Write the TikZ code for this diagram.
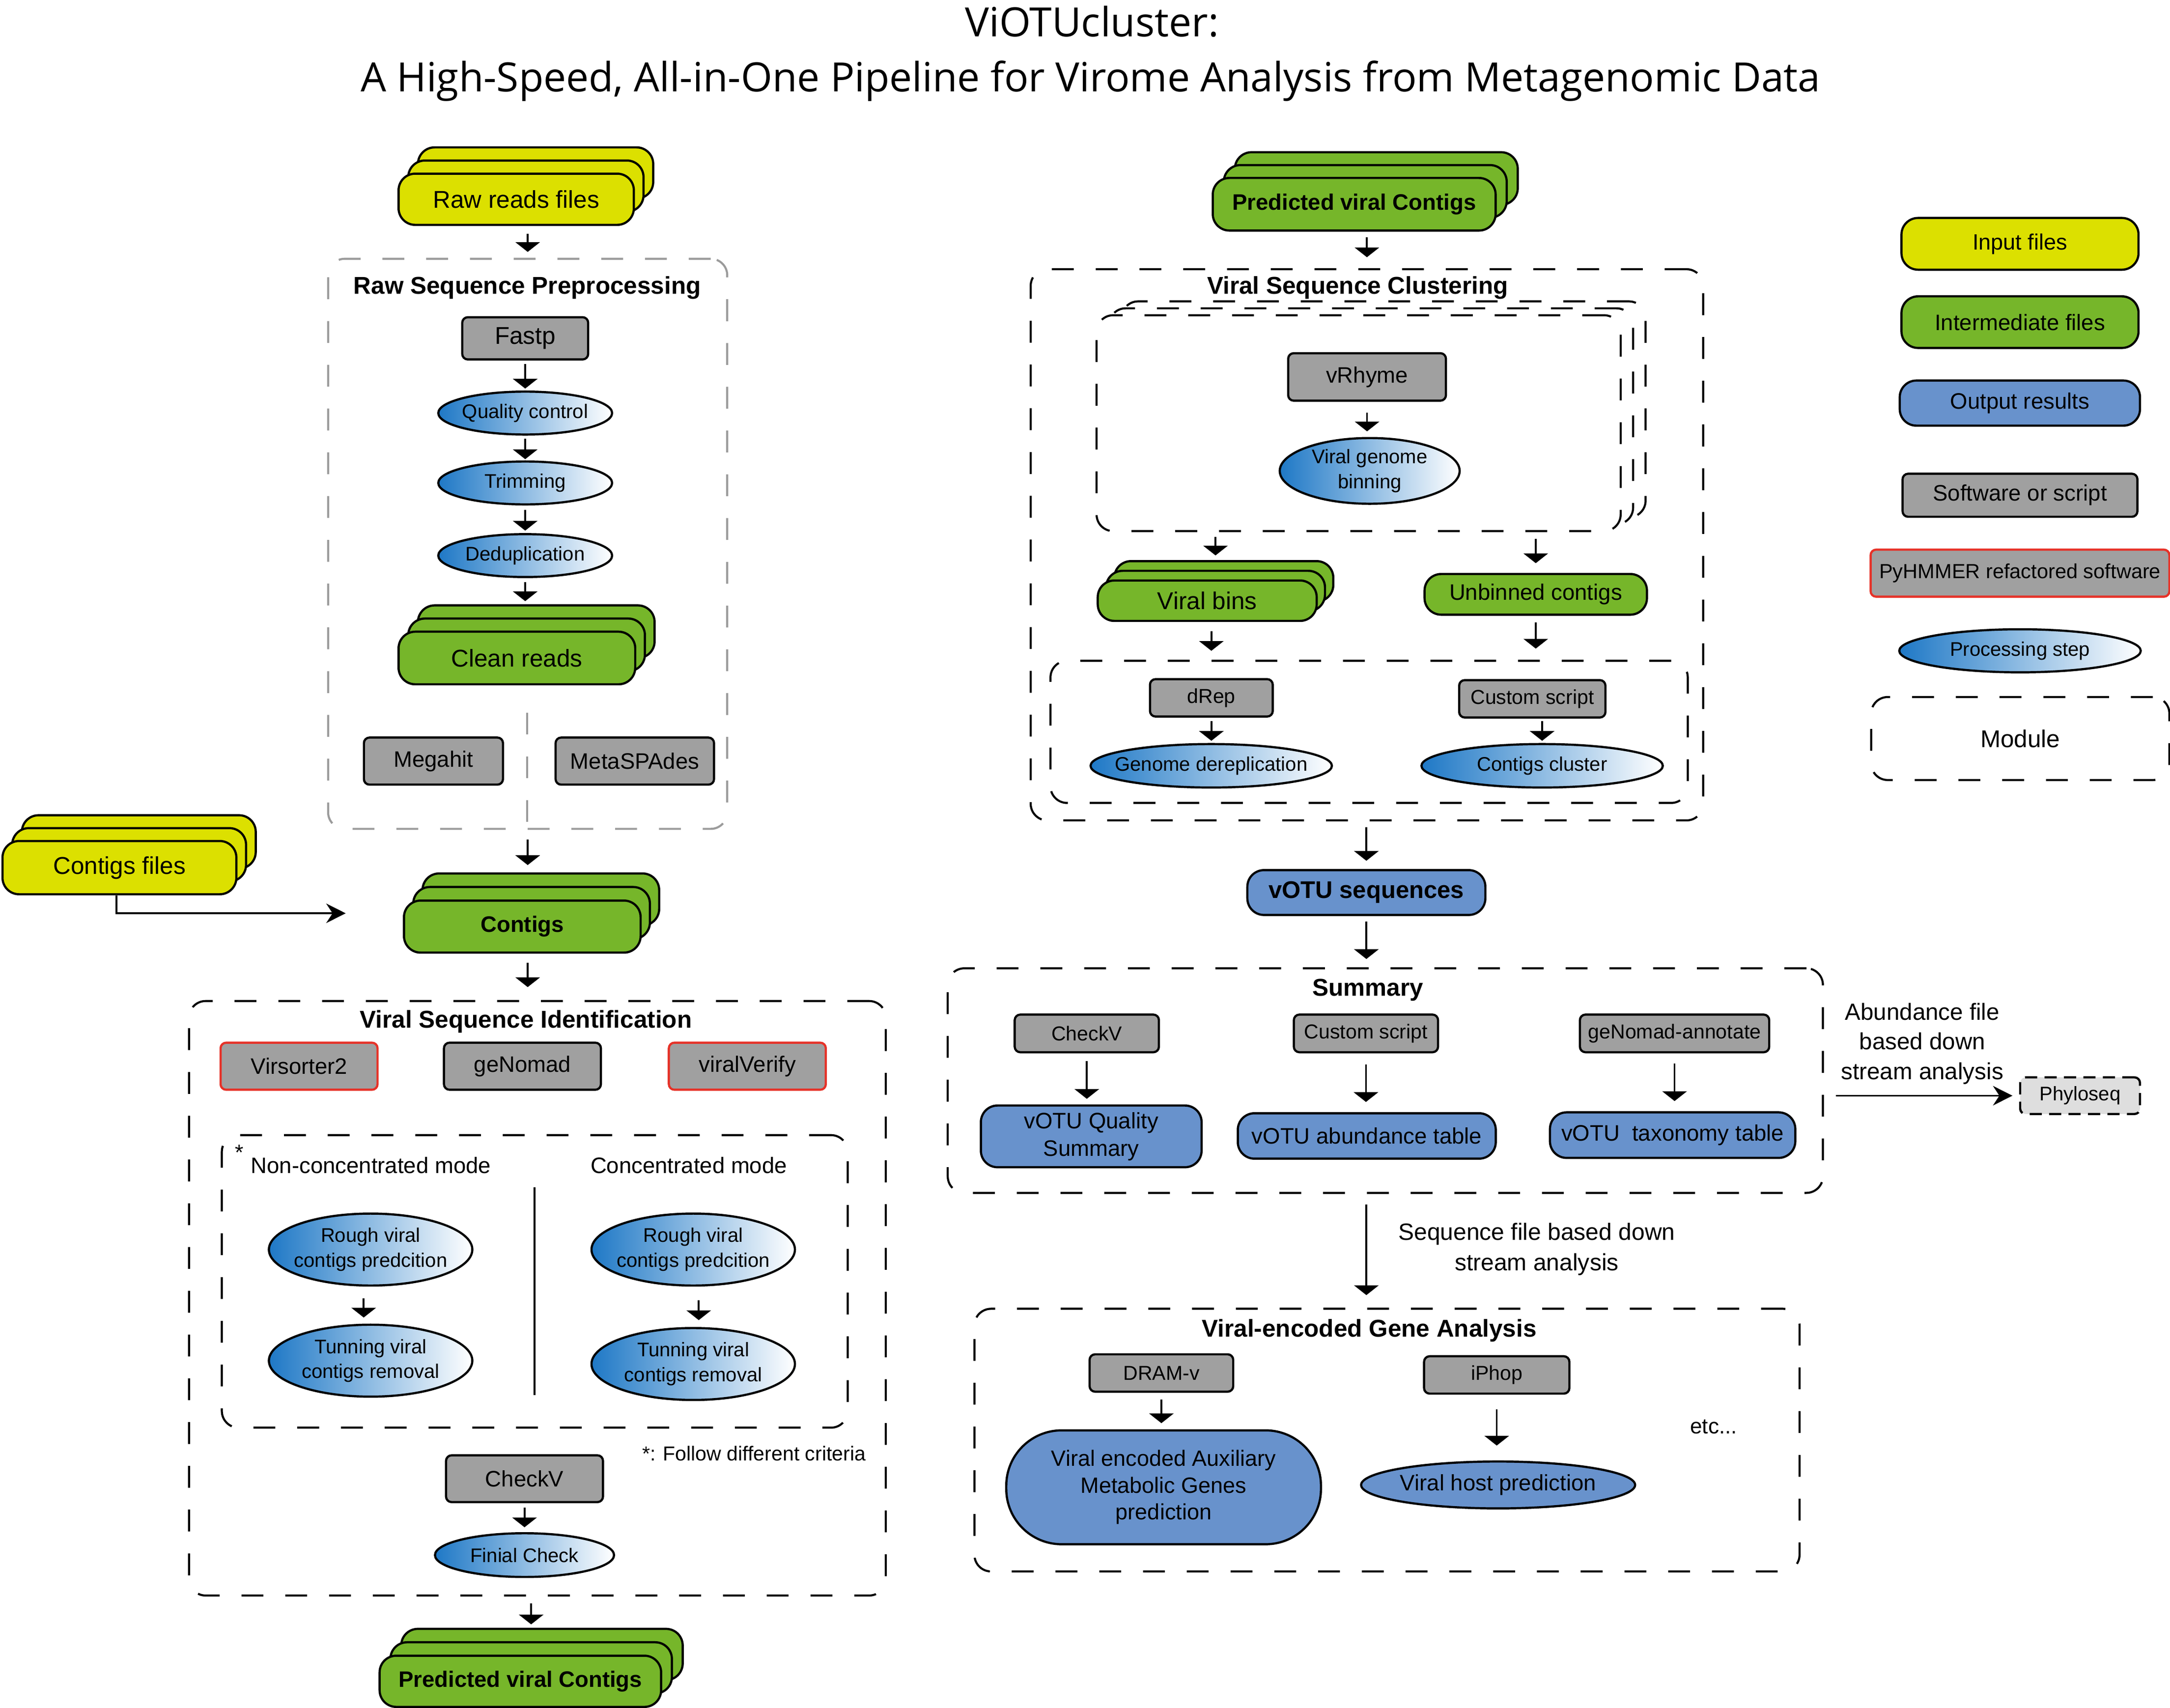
\documentclass[tikz,border=0pt]{standalone}
\usepackage{fontspec}
\setmainfont{Liberation Sans}
\newfontfamily\titlefont{Open Sans}
\usetikzlibrary{arrows.meta,shapes.geometric}

\definecolor{inyellow}{RGB}{220,224,0}
\definecolor{midgreen}{RGB}{118,182,42}
\definecolor{outblue}{RGB}{104,146,204}
\definecolor{toolgray}{RGB}{160,160,160}
\definecolor{refred}{RGB}{230,50,40}
\definecolor{stepblue}{RGB}{30,120,198}
\definecolor{modgray}{RGB}{155,155,155}
\definecolor{phylogray}{RGB}{222,222,222}

\newcommand{\pxu}{0.02cm}
\newcommand{\fsz}[2]{\fontsize{#1}{#2}\selectfont}

\tikzstyle{filebox} = [draw, line width=0.9pt, rounded corners=12*\pxu, inner sep=0pt, font=\fsz{10}{12}]
\tikzstyle{infile} = [filebox, fill=inyellow]
\tikzstyle{midfile} = [filebox, fill=midgreen]
\tikzstyle{outres} = [filebox, fill=outblue, font=\fsz{9.2}{11}]
\tikzstyle{tool} = [draw, line width=0.9pt, rounded corners=4*\pxu, fill=toolgray, inner sep=0pt, font=\fsz{9.2}{11}]
\tikzstyle{pytool} = [tool, draw=refred]
\tikzstyle{procstep} = [ellipse, draw, line width=0.9pt, left color=stepblue, right color=white, inner sep=-15pt, align=center, font=\fsz{8.1}{10.2}]
\tikzstyle{module} = [draw, line width=0.85pt, dash pattern=on 9pt off 9pt, rounded corners=12*\pxu, inner sep=0pt]
\tikzstyle{modtitle} = [font=\bfseries\fsz{10}{12}]
\tikzstyle{arr} = [line width=0.75pt, -{Triangle[width=10pt,length=4pt]}]
\tikzstyle{longarr} = [line width=0.8pt, -{Stealth[width=8pt,length=8pt]}]

% three stacked copies: name, x, y, dx, dy (up), style, text
\newcommand{\filestack}[7]{%
\node[#6] (#1-c) at (#2+2*#4,#3-2*#5) {};
\node[#6] (#1-b) at (#2+#4,#3-#5) {};
\node[#6] (#1) at (#2,#3) {#7};}

\begin{document}
\begin{tikzpicture}[x=0.02cm,y=-0.02cm]
\useasboundingbox (0,0) rectangle (1568,1234);

\node[font=\titlefont\fsz{16.6}{20}, anchor=base] (title1) at (789,26.6) {ViOTUcluster:};
\node[font=\titlefont\fsz{16.6}{20}, anchor=base] (title2) at (788,66.3) {A High-Speed, All-in-One Pipeline for Virome Analysis from Metagenomic Data};

% legend
\node[infile, minimum width=171.3*\pxu, minimum height=37.4*\pxu, font=\fsz{9.1}{11}] (leg-in) at (1459.6,176.2) {Input files};
\node[midfile, minimum width=171.3*\pxu, minimum height=37.3*\pxu, font=\fsz{9.2}{11}] (leg-mid) at (1459.6,232.8) {Intermediate files};
\node[outres, minimum width=173.6*\pxu, minimum height=32.6*\pxu] (leg-out) at (1459.5,291.3) {Output results};
\node[tool, minimum width=169.7*\pxu, minimum height=31.1*\pxu] (leg-tool) at (1459.6,357.9) {Software or script};
\node[pytool, minimum width=215.9*\pxu, minimum height=34*\pxu, font=\fsz{8.4}{10}] (leg-py) at (1459.6,414.2) {PyHMMER refactored software};
\node[procstep, minimum width=174.5*\pxu, minimum height=31.1*\pxu] (leg-step) at (1459.6,470.3) {Processing step};
\node[module, minimum width=215.5*\pxu, minimum height=60*\pxu, font=\fsz{10}{12}] (leg-mod) at (1459.8,533.7) {Module};

% raw sequence preprocessing
\filestack{raw}{373}{144}{7}{9.5}{infile, minimum width=170*\pxu, minimum height=37*\pxu}{Raw reads files}
\node[module, draw=modgray, minimum width=288.4*\pxu, minimum height=412*\pxu] (prep) at (381.3,393) {};
\node[modtitle] (prep-t) at (381,208) {Raw Sequence Preprocessing};
\node[tool, minimum width=91*\pxu, minimum height=30.5*\pxu, font=\fsz{10}{12}] (fastp) at (379.5,244.5) {Fastp};
\node[procstep, minimum width=125.6*\pxu, minimum height=31*\pxu] (qc) at (379.5,298.5) {Quality control};
\node[procstep, minimum width=125.6*\pxu, minimum height=31*\pxu] (trim) at (379.5,349) {Trimming};
\node[procstep, minimum width=125.6*\pxu, minimum height=31*\pxu] (dedup) at (379.5,401.5) {Deduplication};
\filestack{clean}{373.5}{475.5}{7}{9.5}{midfile, minimum width=171*\pxu, minimum height=38*\pxu}{Clean reads}
\node[tool, minimum width=100.5*\pxu, minimum height=34*\pxu] (megahit) at (313.2,550) {Megahit};
\node[tool, minimum width=114.5*\pxu, minimum height=34*\pxu] (spades) at (458.7,550) {MetaSPAdes};
\draw[modgray, line width=0.85pt, dash pattern=on 9pt off 9pt] (381,515) -- (381,599);

\draw[arr, shorten <=3.2pt, shorten >=2.4pt] (raw.south -| prep.north) -- (prep.north);
\draw[arr, shorten <=1.4pt, shorten >=0.8pt] (fastp.south) -- (qc.north);
\draw[arr, shorten <=1.3pt, shorten >=0.5pt] (qc.south) -- (trim.north);
\draw[arr, shorten <=1.9pt, shorten >=1pt] (trim.south) -- (dedup.north);
\draw[arr, shorten <=1.7pt, shorten >=1.3pt] (dedup.south) -- (dedup.south |- clean-c.north);

% contigs
\filestack{cfiles}{86.3}{627}{7}{9.3}{infile, minimum width=169*\pxu, minimum height=38.5*\pxu}{Contigs files}
\filestack{contigs}{377.4}{669.6}{6.7}{9.8}{midfile, minimum width=171*\pxu, minimum height=37.6*\pxu, font=\bfseries\fsz{9.2}{11}}{Contigs}
\coordinate (cf-end) at (249.8,660);

\draw[arr, shorten <=4pt, shorten >=3pt] (prep.south) -- (prep.south |- contigs-c.north);
\draw[longarr] ([xshift=-2*\pxu]cfiles.south) |- (cf-end);

% viral sequence identification
\node[module, minimum width=503.5*\pxu, minimum height=429.6*\pxu] (ident) at (388.3,938.2) {};
\node[modtitle] (ident-t) at (380,738.4) {Viral Sequence Identification};
\node[pytool, minimum width=113.4*\pxu, minimum height=34*\pxu] (vs2) at (216.1,770.5) {Virsorter2};
\node[tool, minimum width=113.4*\pxu, minimum height=34*\pxu] (genomad) at (377.5,770.5) {geNomad};
\node[pytool, minimum width=113.4*\pxu, minimum height=34*\pxu] (vv) at (540,770.5) {viralVerify};
\node[module, minimum width=452.2*\pxu, minimum height=211.4*\pxu] (modes) at (386.4,926) {};
\node[font=\fsz{9}{11}] (star) at (173,833) {*};
\node[font=\fsz{9.2}{11}] (noncon) at (268,842) {Non-concentrated mode};
\node[font=\fsz{9.2}{11}] (con) at (497.7,842) {Concentrated mode};
\draw[line width=0.8pt] (386.3,858) -- (386.3,1008);
\node[procstep, minimum width=147*\pxu, minimum height=52*\pxu] (roughL) at (267.8,903) {Rough viral\\contigs predcition};
\node[procstep, minimum width=147*\pxu, minimum height=52*\pxu] (tunL) at (267.8,983.3) {Tunning viral\\contigs removal};
\node[procstep, minimum width=147*\pxu, minimum height=52*\pxu] (roughR) at (500.9,903) {Rough viral\\contigs predcition};
\node[procstep, minimum width=147*\pxu, minimum height=52*\pxu] (tunR) at (500.9,985.7) {Tunning viral\\contigs removal};
\node[font=\fsz{8.3}{10}] (crit) at (544.8,1050.4) {*: Follow different criteria};
\node[tool, minimum width=113.4*\pxu, minimum height=33.8*\pxu] (checkv) at (379,1068.6) {CheckV};
\node[procstep, minimum width=129.4*\pxu, minimum height=31.6*\pxu] (finial) at (379,1123.8) {Finial Check};
\filestack{predL}{376}{1215}{7.8}{9.7}{midfile, minimum width=203.4*\pxu, minimum height=37*\pxu, font=\bfseries\fsz{9.2}{11}}{Predicted viral Contigs}

\draw[arr, shorten <=3.7pt, shorten >=5.3pt] (contigs.south -| prep.south) -- (prep.south |- ident.north);
\draw[arr, shorten <=4.8pt, shorten >=2.5pt] ([xshift=-5*\pxu]roughL.south) -- ([xshift=-5*\pxu]tunL.north);
\draw[arr, shorten <=5.7pt, shorten >=2.8pt] ([xshift=4*\pxu]roughR.south) -- ([xshift=4*\pxu]tunR.north);
\draw[arr, shorten <=1.7pt, shorten >=2pt] (checkv.south) -- (finial.north);
\draw[arr, shorten <=2.8pt, shorten >=1.4pt] (ident.south -| predL-b.north) -- (predL-b.north |- predL-c.north);

% viral sequence clustering
\filestack{predT}{978.5}{147.6}{8}{9.3}{midfile, minimum width=204.4*\pxu, minimum height=38*\pxu, font=\bfseries\fsz{9.2}{11}}{Predicted viral Contigs}
\node[module, minimum width=485.9*\pxu, minimum height=398.3*\pxu] (clust) at (987.7,393.7) {};
\filestack{binbox}{981.7}{305.8}{9}{5}{module, fill=white, minimum width=378.7*\pxu, minimum height=156*\pxu}{}
\node[modtitle] (clust-t) at (981,208) {Viral Sequence Clustering};
\node[tool, minimum width=114*\pxu, minimum height=34.3*\pxu] (vrhyme) at (987.8,272.4) {vRhyme};
\node[procstep, minimum width=130*\pxu, minimum height=47.5*\pxu] (vgb) at (989.7,340.3) {Viral genome\\binning};
\filestack{vbins}{872.3}{434.1}{6}{7}{midfile, minimum width=158.2*\pxu, minimum height=29.2*\pxu}{Viral bins}
\node[midfile, minimum width=160.7*\pxu, minimum height=29.4*\pxu, font=\fsz{9.2}{11}] (unbin) at (1109.7,429.5) {Unbinned contigs};
\node[module, minimum width=460.5*\pxu, minimum height=102.7*\pxu] (lowbox) at (989.3,528.9) {};
\node[tool, minimum width=88.7*\pxu, minimum height=27*\pxu, font=\fsz{8.3}{10}] (drep) at (875.3,504.3) {dRep};
\node[tool, minimum width=105.7*\pxu, minimum height=27*\pxu, font=\fsz{8.3}{10}] (cscript) at (1107.2,505) {Custom script};
\node[procstep, minimum width=174.4*\pxu, minimum height=31.4*\pxu] (gderep) at (875.2,553.4) {Genome dereplication};
\node[procstep, minimum width=174.4*\pxu, minimum height=31.4*\pxu] (ccluster) at (1114.3,553.4) {Contigs cluster};
\node[outres, minimum width=172*\pxu, minimum height=32.4*\pxu, font=\bfseries\fsz{9.9}{12}] (votu) at (987.3,645) {vOTU sequences};

\draw[arr, shorten <=2.3pt, shorten >=4.5pt] (predT.south -| clust.north) -- (clust.north);
\draw[arr, shorten <=4.5pt, shorten >=2.3pt] (vrhyme.south) -- (vrhyme.south |- vgb.north);
\draw[arr, shorten <=2pt, shorten >=1.9pt] (vbins-b.north |- binbox.south) -- (vbins-b.north |- vbins-c.north);
\draw[arr, shorten <=2.7pt, shorten >=4pt] (binbox.south -| unbin.north) -- (unbin.north);
\draw[arr, shorten <=3.7pt, shorten >=3.7pt] (drep.north |- vbins.south) -- (drep.north |- lowbox.north);
\draw[arr, shorten <=2.7pt, shorten >=4.6pt] (unbin.south) -- (unbin.south |- lowbox.north);
\draw[arr, shorten <=1.4pt, shorten >=0.9pt] (drep.south) -- (drep.south |- gderep.north);
\draw[arr, shorten <=1pt, shorten >=0.9pt] (ccluster.north |- cscript.south) -- (ccluster.north);
\draw[arr, shorten <=2.3pt, shorten >=3.4pt] (votu.north |- clust.south) -- (votu.north);

% summary
\node[module, minimum width=632.4*\pxu, minimum height=162.3*\pxu] (summ) at (1001,780.9) {};
\node[modtitle] (summ-t) at (988.4,715.5) {Summary};
\node[tool, minimum width=104.2*\pxu, minimum height=27.2*\pxu, font=\fsz{8.3}{10}] (checkv-s) at (785.3,746.8) {CheckV};
\node[tool, minimum width=104.2*\pxu, minimum height=27.2*\pxu, font=\fsz{8.3}{10}] (cscript-s) at (987,746.8) {Custom script};
\node[tool, minimum width=136.8*\pxu, minimum height=27.2*\pxu, font=\fsz{8.3}{10}] (gna) at (1210,746.8) {geNomad-annotate};
\node[outres, minimum width=159.5*\pxu, minimum height=44.6*\pxu, font=\fsz{9.2}{11.3}, align=center] (vqs) at (788.5,821.2) {vOTU Quality\\Summary};
\node[outres, minimum width=186.4*\pxu, minimum height=32.8*\pxu] (vab) at (987.6,820.9) {vOTU abundance table};
\node[outres, minimum width=177.3*\pxu, minimum height=32.9*\pxu] (vtax) at (1208.6,820.3) {vOTU\ \ taxonomy table};
\node[font=\fsz{9.6}{12.2}, align=center] (abund) at (1389,754.2) {Abundance file\\based down\\stream analysis};
\node[draw, fill=phylogray, line width=0.9pt, dash pattern=on 5pt off 3pt, rounded corners=4*\pxu, inner sep=0pt, minimum width=86.6*\pxu, minimum height=26.5*\pxu, font=\fsz{8.1}{10}] (phylo) at (1503,791.8) {Phyloseq};
\node[font=\fsz{9.7}{12.5}, align=center] (seqtext) at (1110.4,902.8) {Sequence file based down\\stream analysis};

\draw[arr, shorten <=2.2pt, shorten >=3.4pt] (votu.south) -- (votu.south |- summ.north);
\draw[arr, shorten <=3.2pt, shorten >=2.3pt] (checkv-s.south) -- (checkv-s.south |- vqs.north);
\draw[arr, shorten <=4.5pt, shorten >=4.2pt] (cscript-s.south) -- (vab.north -| cscript-s.south);
\draw[arr, shorten <=4.1pt, shorten >=4.2pt] (gna.south) -- (vtax.north -| gna.south);
\draw[longarr, shorten <=4.9pt, shorten >=2.7pt] (summ.east |- phylo.west) -- (phylo.west);

% viral-encoded gene analysis
\node[module, minimum width=596.2*\pxu, minimum height=189.8*\pxu] (gene) at (1002.2,1040.7) {};
\node[modtitle] (gene-t) at (989.4,961.5) {Viral-encoded Gene Analysis};
\node[tool, minimum width=103.8*\pxu, minimum height=27*\pxu, font=\fsz{8.3}{10}] (dramv) at (839.2,992.2) {DRAM-v};
\node[tool, minimum width=105*\pxu, minimum height=27*\pxu, font=\fsz{8.3}{10}] (iphop) at (1081.5,993.6) {iPhop};
\node[outres, rounded corners=40*\pxu, minimum width=227.4*\pxu, minimum height=82.3*\pxu, font=\fsz{9.1}{11}, align=center] (amg) at (840.8,1074.8) {Viral encoded Auxiliary\\Metabolic Genes\\prediction};
\node[ellipse, draw, fill=outblue, line width=0.9pt, inner sep=-15pt, minimum width=198*\pxu, minimum height=33.9*\pxu, font=\fsz{9.2}{11}] (vhost) at (1082.5,1073.1) {Viral host prediction};
\node[font=\fsz{8.9}{11}] (etc) at (1238.2,1031) {etc...};

\draw[arr, shorten <=4.3pt, shorten >=5.2pt] (votu.south |- summ.south) -- (votu.south |- gene.north);
\draw[arr, shorten <=2.7pt, shorten >=2.5pt] (dramv.south) -- (dramv.south |- amg.north);
\draw[arr, shorten <=6.1pt, shorten >=6.1pt] (iphop.south) -- (iphop.south |- vhost.north);

\end{tikzpicture}
\end{document}
